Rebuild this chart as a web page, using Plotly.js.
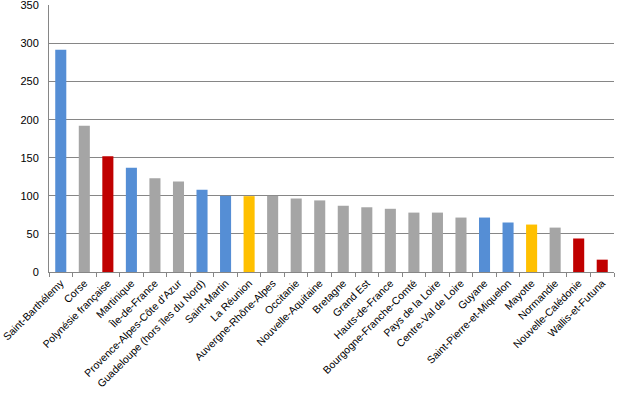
<!DOCTYPE html>
<html><head><meta charset="utf-8">
<script src="https://cdn.plot.ly/plotly-3.0.1.min.js"></script>
<style>body{margin:0;background:#fff}#c{width:620px;height:399px}</style>
</head><body><div id="c"></div>
<script>
const categories = ["Saint-Barthélemy","Corse","Polynésie française","Martinique","Île-de-France","Provence-Alpes-Côte d'Azur","Guadeloupe (hors îles du Nord)","Saint-Martin","La Réunion","Auvergne-Rhône-Alpes","Occitanie","Nouvelle-Aquitaine","Bretagne","Grand Est","Hauts-de-France","Bourgogne-Franche-Comté","Pays de la Loire","Centre-Val de Loire","Guyane","Saint-Pierre-et-Miquelon","Mayotte","Normandie","Nouvelle-Calédonie","Wallis-et-Futuna"];
const values = [292,192,152,137,123,119,108,100,99.6,100,96.5,94,87,85,83,78,78,71.5,71.5,65,62.3,58.3,44,16.2];
const groups = ["b","g","r","b","g","g","b","b","y","g","g","g","g","g","g","g","g","g","b","b","y","g","r","r"];
const palette = {b:"#558ED5", g:"#A5A5A5", r:"#C00000", y:"#FFC000"};
const yTicks = [0,50,100,150,200,250,300,350];

const trace = {
  type: "bar",
  x: categories,
  y: values,
  marker: {color: groups.map(g => palette[g])},
  hoverinfo: "x+y"
};
const layout = {
  width: 620, height: 399,
  margin: {l: 49, r: 6, t: 5, b: 127},
  paper_bgcolor: "#fff", plot_bgcolor: "#fff",
  bargap: 0.53,
  showlegend: false,
  font: {family: "Liberation Sans", size: 11, color: "#000"},
  xaxis: {
    type: "category",
    tickangle: -45,
    ticks: "outside", tickson: "boundaries", ticklen: 4, tickcolor: "#868686", tickwidth: 1,
    showline: true, linecolor: "#868686", linewidth: 1,
    showgrid: false,
    tickfont: {family: "Liberation Sans", size: 10.5, color: "#000"},
    ticklabeloverflow: "allow",
    automargin: false
  },
  yaxis: {
    range: [0, 350.6],
    tickmode: "array", tickvals: yTicks, ticktext: yTicks.map(String),
    showgrid: true, gridcolor: "#868686", gridwidth: 1,
    showline: true, linecolor: "#868686", linewidth: 1,
    zeroline: false,
    ticks: "", ticklabelstandoff: 7,
    ticklabeloverflow: "allow",
    tickfont: {family: "Liberation Sans", size: 11, color: "#000"},
    automargin: false
  }
};
Plotly.newPlot("c", [trace], layout, {staticPlot: true, displayModeBar: false});
</script></body></html>
